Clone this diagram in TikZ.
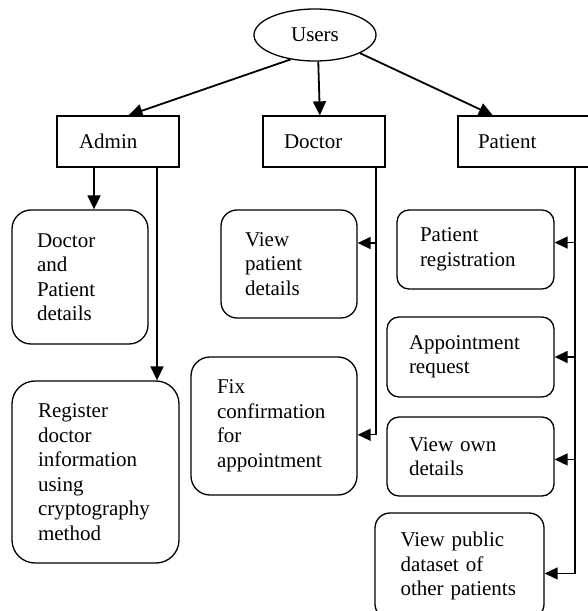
\documentclass[tikz,border=0pt]{standalone}
\usepackage{fontspec}
\setmainfont{Liberation Serif}
\usetikzlibrary{arrows.meta, shapes.geometric}

\begin{document}
\begin{tikzpicture}[x=1pt,y=1pt,
 every node/.style={font=\fontsize{21}{24.5}\selectfont},
 role/.style={draw,line width=1.3pt,rectangle,minimum width=122pt,minimum height=51pt,inner ysep=0pt,align=left},
 task/.style={draw,line width=1.3pt,rounded corners=#1,align=left,inner ysep=0pt},
 arr/.style={-{Triangle[length=14pt,width=13pt]},line width=1.8pt},
 harr/.style={-{Triangle[length=13pt,width=12pt]},line width=1.4pt},
 link/.style={line width=1.4pt}]
\useasboundingbox (0,0) rectangle (587,611);

%users and roles
\node[ellipse,draw,line width=1.3pt,minimum width=122pt,minimum height=52pt,inner sep=0pt] (users) at (315,576) {Users};
\node[role,inner xsep=22pt,text width=78pt] (admin) at (118,469.5) {Admin};
\node[role,inner xsep=21pt,text width=80pt] (doctor) at (324,469.5) {Doctor};
\node[role,inner xsep=20pt,text width=92pt] (patient) at (524,469.5) {Patient};

%admin side
\node[task=19pt,minimum height=134pt,inner xsep=25pt,text width=86pt] (dpdet) at (80,334) {Doctor\\and\\Patient\\details};
\node[task=23pt,minimum height=182pt,inner xsep=26pt,text width=115pt] (regdoc) at (95.5,139) {Register\\doctor\\information\\using\\cryptography\\method};

%doctor side
\node[task=16pt,minimum height=108pt,inner xsep=24pt,text width=88pt] (viewpat) at (289,347) {View\\patient\\details};
\node[task=19pt,minimum height=138pt,inner xsep=26pt,text width=114pt] (fixconf) at (274,185) {Fix\\confirmation\\for\\appointment};

%patient side
\node[task=12pt,minimum height=79pt,inner xsep=23pt,text width=111pt] (patreg) at (475.5,361.5) {Patient\\registration};
\node[task=12pt,minimum height=80pt,inner xsep=22pt,text width=123pt] (apptreq) at (470.5,254) {Appointment\\request};
\node[task=12pt,minimum height=79pt,inner xsep=22pt,text width=123pt] (viewown) at (470.5,154.5) {View own\\details};
\node[task=15pt,minimum height=106pt,inner xsep=25.5pt,text width=118pt] (viewpub) at (459.5,45) {View public\\dataset of\\\mbox{other patients}};

%users to roles
\draw[arr] (users.225) -- (admin.68);
\draw[arr] (users.277) -- (doctor.99);
\draw[arr] (users.338) -- (patient.140);

%admin lines
\coordinate (acol1) at (94,0);
\coordinate (acol2) at (157,0);
\draw[arr] (admin.south -| acol1) -- (dpdet.north -| acol1);
\draw[arr] (admin.south -| acol2) -- (regdoc.north -| acol2);

%doctor line
\coordinate (dcol) at (376,0);
\draw[link] (doctor.south -| dcol) -- ([yshift=-0.7pt]dcol |- fixconf.354);
\draw[harr] (dcol |- viewpat.17) -- (viewpat.17);
\draw[harr] (dcol |- fixconf.354) -- (fixconf.354);

%patient line
\coordinate (pcol) at (575,0);
\draw[link] (patient.south -| pcol) -- ([yshift=-0.7pt]pcol |- viewpub.355);
\draw[harr] (pcol |- patreg.5) -- (patreg.5);
\draw[harr] (pcol |- apptreq.east) -- (apptreq.east);
\draw[harr] (pcol |- viewown.358) -- (viewown.358);
\draw[harr] (pcol |- viewpub.355) -- (viewpub.355);

\end{tikzpicture}
\end{document}
